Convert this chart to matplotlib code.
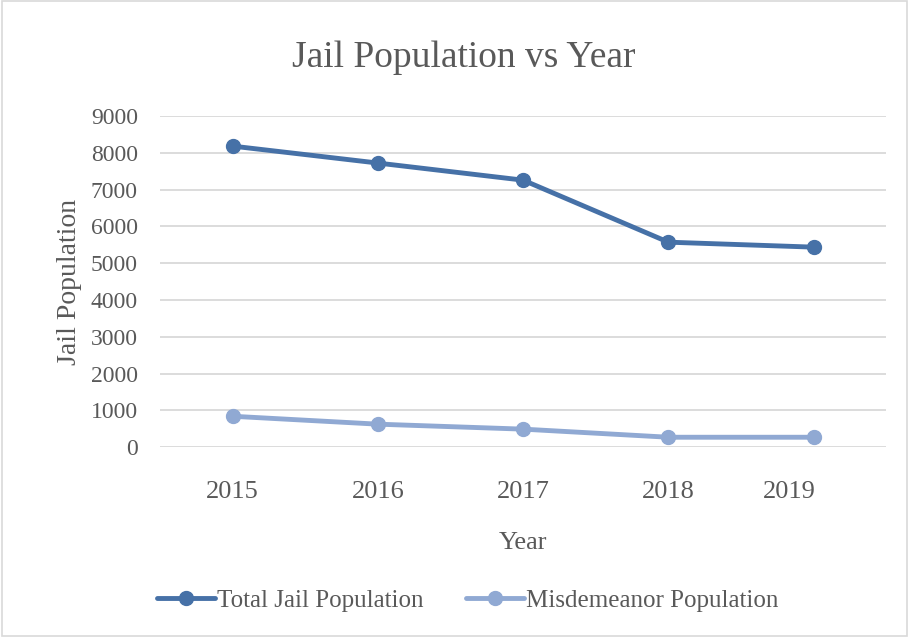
import matplotlib.pyplot as plt
from matplotlib.patches import Rectangle
from matplotlib.transforms import ScaledTranslation

years = ["2015", "2016", "2017", "2018", "2019"]
total_pop = [8180, 7720, 7255, 5570, 5435]
misd_pop = [840, 625, 490, 270, 270]

dark_blue = "#4671a7"
light_blue = "#90a9d3"
text_gray = "#595959"

plt.rcParams["font.family"] = ["Liberation Serif", "DejaVu Serif"]

fig = plt.figure(figsize=(9.09, 6.37), dpi=100)
ax = fig.add_axes([0.176, 0.298, 0.799, 0.520])

x = list(range(len(years)))
ax.plot(x, total_pop, color=dark_blue, linewidth=3.5, marker="o",
        markersize=10, label="Total Jail Population", solid_capstyle="round")
ax.plot(x, misd_pop, color=light_blue, linewidth=3.5, marker="o",
        markersize=10, label="Misdemeanor Population", solid_capstyle="round")

ax.set_xlim(-0.5, 4.5)
ax.set_ylim(0, 9000)
ax.set_yticks(range(0, 9001, 1000))
ax.set_xticks(x)
ax.set_xticklabels(years)

ax.grid(axis="y", color="#d9d9d9", linewidth=1.3)
ax.set_axisbelow(True)
for s in ax.spines.values():
    s.set_visible(False)
ax.tick_params(length=0, colors=text_gray)
ax.tick_params(axis="x", pad=24, labelsize=19)
ax.tick_params(axis="y", pad=16, labelsize=17)

# the 2019 label sits a bit left of its point in the original
lbl = ax.get_xticklabels()[-1]
lbl.set_transform(lbl.get_transform() + ScaledTranslation(-0.24, 0, fig.dpi_scale_trans))

fig.text(0.51, 0.91, "Jail Population vs Year", fontsize=27, color=text_gray,
         ha="center", va="center")
ax.set_ylabel("Jail Population", fontsize=20, color=text_gray, labelpad=6)
ax.set_xlabel("Year", fontsize=19, color=text_gray, labelpad=21)

ax.legend(loc="upper center", bbox_to_anchor=(0.424, -0.362), ncol=2,
          frameon=False, fontsize=18, labelcolor=text_gray,
          handlelength=2.3, handletextpad=0.1, columnspacing=1.7)

fig.patches.append(Rectangle((0.002, 0.002), 0.996, 0.996, transform=fig.transFigure,
                             fill=False, edgecolor="#d9d9d9", linewidth=1.2))

fig.savefig("out.png", dpi=100)
